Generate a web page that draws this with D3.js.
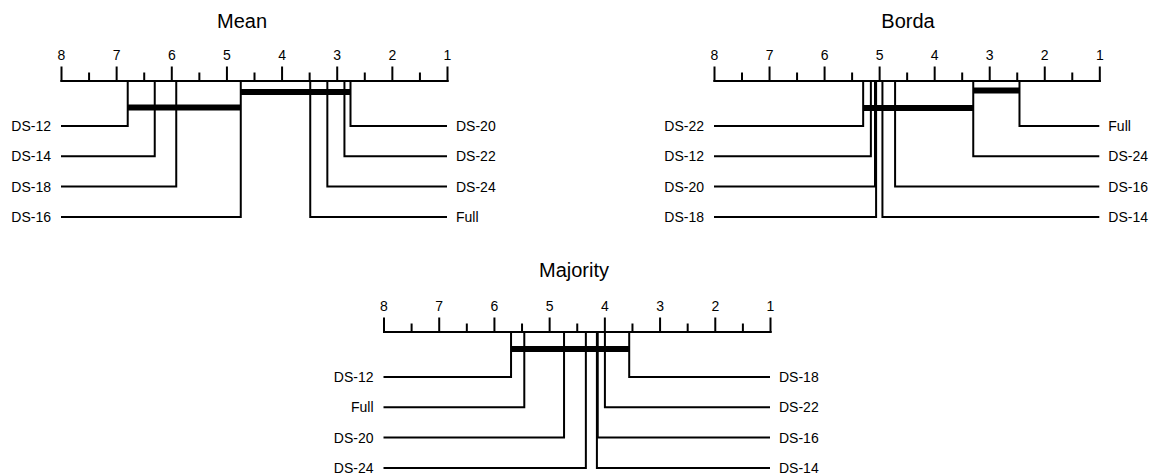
<!DOCTYPE html>
<html>
<head>
<meta charset="utf-8">
<script src="https://cdn.jsdelivr.net/npm/d3@7"></script>
<style>
  html, body { margin: 0; padding: 0; background: #fff; }
  svg text { font-family: "Liberation Sans", Arial, sans-serif; fill: #000; }
</style>
</head>
<body>
<svg id="chart" width="1160" height="474"></svg>
<script>
/* ───────────── DATA (average ranks) ───────────── */
const rankTicks  = [8, 7, 6, 5, 4, 3, 2, 1];
const minorTicks = [7.5, 6.5, 5.5, 4.5, 3.5, 2.5, 1.5];

const meanNames = ["DS-12", "DS-14", "DS-18", "DS-16", "Full", "DS-24", "DS-22", "DS-20"];
const meanRanks = [6.79, 6.30, 5.91, 4.74, 3.48, 3.17, 2.86, 2.75];
const meanCliques = [["DS-16", "DS-20"], ["DS-12", "DS-16"]];

const bordaNames = ["DS-22", "DS-12", "DS-20", "DS-18", "DS-14", "DS-16", "DS-24", "Full"];
const bordaRanks = [5.29, 5.15, 5.075, 5.055, 4.94, 4.71, 3.29, 2.45];
const bordaCliques = [["DS-24", "Full"], ["DS-22", "DS-24"]];

const majorityNames = ["DS-12", "Full", "DS-20", "DS-24", "DS-14", "DS-16", "DS-22", "DS-18"];
const majorityRanks = [5.69, 5.45, 4.73, 4.335, 4.135, 4.12, 3.99, 3.55];
const majorityCliques = [["DS-12", "DS-18"]];

/* ───────────── LAYOUT ───────────── */
const panels = [
  { title: "Mean",     names: meanNames,     ranks: meanRanks,     cliques: meanCliques,
    x0: 61,  x1: 447,    axisY: 80.5,  titleX: 242, titleY: 28,  barOff: [11.5, 27] },
  { title: "Borda",    names: bordaNames,    ranks: bordaRanks,    cliques: bordaCliques,
    x0: 714, x1: 1099.3, axisY: 80.5,  titleX: 908, titleY: 28,  barOff: [10, 27.5] },
  { title: "Majority", names: majorityNames, ranks: majorityRanks, cliques: majorityCliques,
    x0: 383.5, x1: 770,  axisY: 331.5, titleX: 574, titleY: 277, barOff: [17.5] }
];

const rowGap = 30.3, firstRow = 45.5;
const svg = d3.select("#chart");

panels.forEach(p => {
  const g = svg.append("g");
  const x = d3.scaleLinear().domain([8, 1]).range([p.x0, p.x1]);

  g.append("text")
    .attr("x", p.titleX).attr("y", p.titleY)
    .attr("text-anchor", "middle")
    .style("font-size", "20px")
    .text(p.title);

  // major ticks with labels
  const ax = g.append("g")
    .attr("transform", `translate(0,${p.axisY})`)
    .call(d3.axisTop(x).tickValues(rankTicks).tickSize(14).tickSizeOuter(0).tickPadding(7)
      .tickFormat(d3.format("d")));
  // minor ticks
  const mx = g.append("g")
    .attr("transform", `translate(0,${p.axisY})`)
    .call(d3.axisTop(x).tickValues(minorTicks).tickSize(8).tickSizeOuter(0).tickFormat(""));
  [ax, mx].forEach(a => {
    a.selectAll("path, line").attr("stroke", "#000").attr("stroke-width", 2);
    a.select(".domain").attr("stroke-linecap", "square");
    a.selectAll("text").style("font-size", "14px")
      .style("font-family", '"Liberation Sans", Arial, sans-serif').attr("fill", "#000");
  });

  // order by rank: worst half to the left, best half to the right
  const items = p.names.map((n, i) => ({ name: n, rank: p.ranks[i] }))
    .sort((a, b) => b.rank - a.rank);
  const half = items.length / 2;
  items.forEach((d, i) => {
    const left = i < half;
    const row = left ? i : items.length - 1 - i;
    const yRow = p.axisY + firstRow + row * rowGap;
    const xr = x(d.rank);
    g.append("path")
      .attr("d", `M${xr},${p.axisY}V${yRow}H${left ? x(8) : x(1)}`)
      .attr("fill", "none").attr("stroke", "#000").attr("stroke-width", 2);
    g.append("text")
      .attr("x", left ? x(8) - 10 : x(1) + 9)
      .attr("y", yRow).attr("dy", "0.35em")
      .attr("text-anchor", left ? "end" : "start")
      .style("font-size", "14px")
      .text(d.name);
  });

  // cliques (no significant difference)
  const rankOf = n => p.ranks[p.names.indexOf(n)];
  p.cliques.forEach(([a, b], k) => {
    const yb = p.axisY + p.barOff[k];
    g.append("line")
      .attr("x1", x(rankOf(a))).attr("x2", x(rankOf(b)))
      .attr("y1", yb).attr("y2", yb)
      .attr("stroke", "#000").attr("stroke-width", 6);
  });
});
</script>
</body>
</html>
